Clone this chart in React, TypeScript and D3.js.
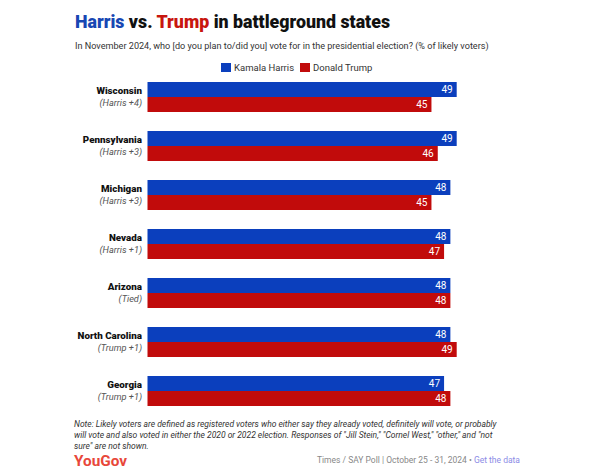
import React from "react";
import * as d3 from "d3";

const states = ["Wisconsin", "Pennsylvania", "Michigan", "Nevada", "Arizona", "North Carolina", "Georgia"];
const margins = ["(Harris +4)", "(Harris +3)", "(Harris +3)", "(Harris +1)", "(Tied)", "(Trump +1)", "(Trump +1)"];
const harris = [49, 49, 48, 48, 48, 48, 47];
const trump = [45, 46, 45, 47, 48, 49, 48];

const BLUE = "#0b3fbd";
const RED = "#c10b0b";
const FONT = "Roboto, 'Noto Sans', sans-serif";

export default function App() {
  const W = 590, H = 472;
  const x = d3.scaleLinear().domain([0, 50]).range([147.5, 463]);
  const y = d3.scaleBand<string>().domain(states).range([82, 406]).paddingInner(19 / 49).paddingOuter(0);
  const bh = y.bandwidth() / 2;

  return (
    <svg width={W} height={H} style={{ position: "absolute", left: 0, top: 0, background: "#fff" }} fontFamily={FONT}>
      <text x={75} y={28} fontSize={17.8} fontWeight={900} fill="#111">
        <tspan fill="#1747b3">Harris</tspan>
        <tspan> vs. </tspan>
        <tspan fill="#c8160f">Trump</tspan>
        <tspan> in battleground states</tspan>
      </text>
      <text x={75} y={49} fontSize={9.1} fill="#333">
        In November 2024, who [do you plan to/did you] vote for in the presidential election? (% of likely voters)
      </text>
      <g fontSize={9.5} fill="#333">
        <rect x={221} y={63} width={10} height={9} fill={BLUE} />
        <text x={234} y={71}>Kamala Harris</text>
        <rect x={300} y={63} width={10} height={9} fill={RED} />
        <text x={313} y={71}>Donald Trump</text>
      </g>
      {states.map((s, i) => {
        const y0 = y(s)!;
        return (
          <g key={s}>
            <rect x={x(0)} y={y0} width={x(harris[i]) - x(0)} height={bh} fill={BLUE} />
            <rect x={x(0)} y={y0 + bh} width={x(trump[i]) - x(0)} height={bh} fill={RED} />
            <text x={x(harris[i]) - 4} y={y0 + bh / 2 + 3.5} fontSize={10} fill="#fff" textAnchor="end">{harris[i]}</text>
            <text x={x(trump[i]) - 4} y={y0 + bh * 1.5 + 3.5} fontSize={10} fill="#fff" textAnchor="end">{trump[i]}</text>
            <text x={142} y={y0 + 11.5} fontSize={9.8} fontWeight={900} fill="#111" textAnchor="end">{s}</text>
            <text x={142} y={y0 + 24} fontSize={9.2} fontStyle="italic" fill="#555" textAnchor="end">{margins[i]}</text>
          </g>
        );
      })}
      <g fontSize={8.5} fontStyle="italic" fill="#333">
        <text x={74} y={427}>Note: Likely voters are defined as registered voters who either say they already voted, definitely will vote, or probably</text>
        <text x={74} y={438}>will vote and also voted in either the 2020 or 2022 election. Responses of "Jill Stein," "Cornel West," "other," and "not</text>
        <text x={74} y={449}>sure" are not shown.</text>
      </g>
      <text x={74} y={466} fontSize={15} fontWeight={700} fill="#e8473a" textLength={53} lengthAdjust="spacingAndGlyphs">YouGov</text>
      <text x={520} y={463} fontSize={8.5} fill="#888" textAnchor="end">
        <tspan>Times / SAY Poll | October 25 - 31, 2024 • </tspan>
        <tspan fill="#8c8ce6">Get the data</tspan>
      </text>
    </svg>
  );
}
